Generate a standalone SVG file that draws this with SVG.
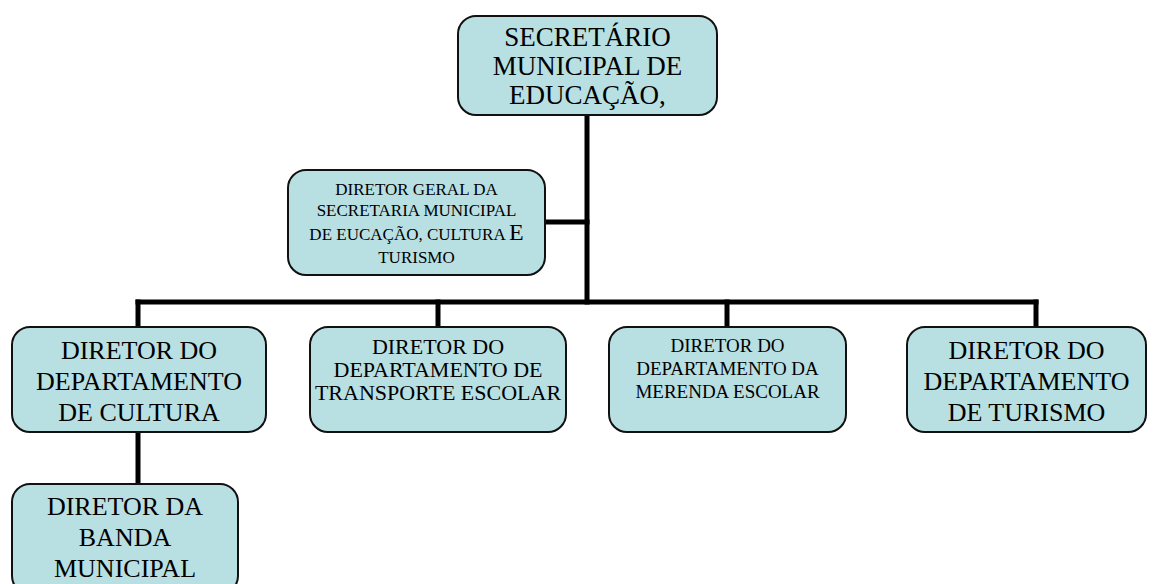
<svg xmlns="http://www.w3.org/2000/svg" width="1154" height="584" viewBox="0 0 1154 584">
<style>
.box{fill:#b8dfe2;stroke:#111;stroke-width:2}
text{font-family:'Liberation Serif','Times New Roman',Times,serif;fill:#000;text-anchor:middle}
.c{stroke:#000;stroke-width:5;fill:none;stroke-linecap:square}
</style>
<rect width="1154" height="584" fill="#fff"/>
<g id="connectors">
<line class="c" x1="587" y1="115" x2="587" y2="302"/>
<line class="c" x1="545" y1="222" x2="587" y2="222"/>
<line class="c" x1="138" y1="302" x2="1036" y2="302"/>
<line class="c" x1="138" y1="302" x2="138" y2="327"/>
<line class="c" x1="438" y1="302" x2="438" y2="327"/>
<line class="c" x1="727" y1="302" x2="727" y2="327"/>
<line class="c" x1="1036" y1="302" x2="1036" y2="327"/>
<line class="c" x1="138" y1="432" x2="138" y2="484"/>
</g>
<g id="secretario">
<rect class="box" x="458" y="16" width="259" height="99" rx="18"/>
<text font-family="Liberation Serif, serif" font-size="27"><tspan x="587.5" y="46">SECRETÁRIO</tspan><tspan x="587.5" y="75">MUNICIPAL DE</tspan><tspan x="587.5" y="104">EDUCAÇÃO,</tspan></text>
</g>
<g id="diretor-geral">
<rect class="box" x="288" y="170" width="257" height="105" rx="18"/>
<text font-family="Liberation Serif, serif" font-size="17"><tspan x="416.5" y="195">DIRETOR GERAL DA</tspan><tspan x="416.5" y="216">SECRETARIA MUNICIPAL</tspan><tspan x="416.5" y="240">DE EUCAÇÃO, CULTURA <tspan font-size="24">E</tspan></tspan><tspan x="416.5" y="263">TURISMO</tspan></text>
</g>
<g id="cultura">
<rect class="box" x="12" y="327" width="254" height="105" rx="18"/>
<text font-family="Liberation Serif, serif" font-size="26"><tspan x="139" y="359">DIRETOR DO</tspan><tspan x="139" y="390">DEPARTAMENTO</tspan><tspan x="139" y="421">DE CULTURA</tspan></text>
</g>
<g id="transporte">
<rect class="box" x="310" y="327" width="256" height="105" rx="18"/>
<text font-family="Liberation Serif, serif" font-size="22"><tspan x="438" y="354">DIRETOR DO</tspan><tspan x="438" y="377">DEPARTAMENTO DE</tspan><tspan x="438" y="400">TRANSPORTE ESCOLAR</tspan></text>
</g>
<g id="merenda">
<rect class="box" x="609" y="327" width="237" height="105" rx="18"/>
<text font-family="Liberation Serif, serif" font-size="19"><tspan x="727.5" y="352">DIRETOR DO</tspan><tspan x="727.5" y="375">DEPARTAMENTO DA</tspan><tspan x="727.5" y="398">MERENDA ESCOLAR</tspan></text>
</g>
<g id="turismo">
<rect class="box" x="907" y="327" width="239" height="105" rx="18"/>
<text font-family="Liberation Serif, serif" font-size="26"><tspan x="1026.5" y="359">DIRETOR DO</tspan><tspan x="1026.5" y="390">DEPARTAMENTO</tspan><tspan x="1026.5" y="421">DE TURISMO</tspan></text>
</g>
<g id="banda">
<rect class="box" x="12" y="484" width="226" height="110" rx="18"/>
<text font-family="Liberation Serif, serif" font-size="26"><tspan x="125" y="515">DIRETOR DA</tspan><tspan x="125" y="546">BANDA</tspan><tspan x="125" y="577">MUNICIPAL</tspan></text>
</g>
</svg>
